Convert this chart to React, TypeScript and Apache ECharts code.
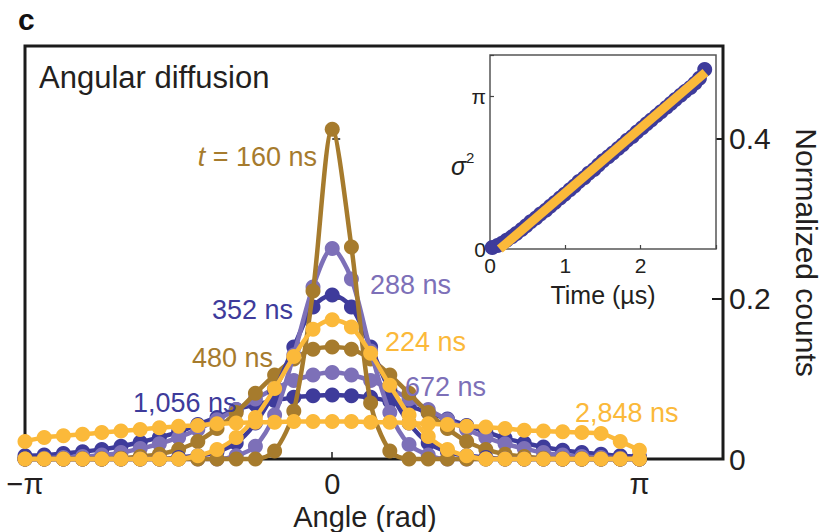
import React, { useEffect, useRef } from 'react';
import * as echarts from 'echarts';

// bin index k: angle = k * pi / 16
const binIndex = [-16, -15, -14, -13, -12, -11, -10, -9, -8, -7, -6, -5, -4, -3, -2, -1, 0, 1, 2, 3, 4, 5, 6, 7, 8, 9, 10, 11, 12, 13, 14, 15, 16];

const c160 = [0, 0, 0, 0, 0, 0, 0, 0, 0, 0, 0, 0, 0, 0.01, 0.06, 0.21, 0.412, 0.265, 0.07, 0.01, 0, 0, 0, 0, 0, 0, 0, 0, 0, 0, 0, 0, 0];
const c224 = [0, 0, 0, 0, 0, 0, 0, 0, 0, 0.004, 0.012, 0.027, 0.052, 0.088, 0.128, 0.162, 0.174, 0.165, 0.132, 0.092, 0.055, 0.028, 0.012, 0.004, 0, 0, 0, 0, 0, 0, 0, 0, 0];
const c288 = [0, 0, 0, 0, 0, 0, 0, 0, 0, 0, 0, 0.004, 0.016, 0.055, 0.13, 0.215, 0.263, 0.225, 0.135, 0.058, 0.018, 0.005, 0, 0, 0, 0, 0, 0, 0, 0, 0, 0, 0];
const c352 = [0, 0, 0, 0, 0, 0, 0, 0, 0.002, 0.004, 0.009, 0.02, 0.045, 0.085, 0.14, 0.19, 0.205, 0.19, 0.14, 0.085, 0.045, 0.02, 0.009, 0.004, 0.002, 0, 0, 0, 0, 0, 0, 0, 0];
const c480 = [0, 0, 0, 0, 0, 0.001, 0.003, 0.006, 0.012, 0.022, 0.038, 0.058, 0.082, 0.105, 0.125, 0.137, 0.14, 0.137, 0.125, 0.105, 0.082, 0.058, 0.038, 0.022, 0.012, 0.006, 0.003, 0.001, 0, 0, 0, 0, 0];
const c672 = [0, 0.001, 0.002, 0.003, 0.005, 0.008, 0.013, 0.019, 0.027, 0.037, 0.049, 0.062, 0.075, 0.088, 0.098, 0.105, 0.108, 0.105, 0.098, 0.088, 0.075, 0.062, 0.049, 0.037, 0.027, 0.019, 0.013, 0.008, 0.005, 0.003, 0.002, 0.001, 0];
const c1056 = [0.004, 0.005, 0.007, 0.009, 0.012, 0.016, 0.021, 0.027, 0.034, 0.043, 0.052, 0.062, 0.068, 0.073, 0.077, 0.079, 0.08, 0.079, 0.077, 0.072, 0.066, 0.058, 0.05, 0.042, 0.034, 0.026, 0.02, 0.015, 0.011, 0.008, 0.006, 0.004, 0.003];
const c2848 = [0.022, 0.027, 0.029, 0.031, 0.033, 0.035, 0.037, 0.039, 0.041, 0.042, 0.044, 0.045, 0.046, 0.046, 0.047, 0.047, 0.047, 0.047, 0.046, 0.046, 0.045, 0.044, 0.043, 0.041, 0.04, 0.038, 0.036, 0.035, 0.034, 0.033, 0.032, 0.022, 0.011];

// inset: sigma^2 vs time (µs)
const insetTimes = [0.03, 0.10, 0.16, 0.22, 0.29, 0.35, 0.42, 0.48, 0.54, 0.61, 0.67, 0.74, 0.80, 0.86, 0.93, 0.99, 1.06, 1.12, 1.18, 1.25, 1.31, 1.38, 1.44, 1.50, 1.57, 1.63, 1.70, 1.76, 1.82, 1.89, 1.95, 2.02, 2.08, 2.14, 2.21, 2.27, 2.34, 2.40, 2.46, 2.53, 2.59, 2.66, 2.72, 2.78, 2.85];
const insetSigma2 = [0.03, 0.07, 0.12, 0.18, 0.25, 0.32, 0.40, 0.48, 0.56, 0.64, 0.72, 0.80, 0.88, 0.96, 1.05, 1.13, 1.22, 1.30, 1.39, 1.47, 1.56, 1.64, 1.73, 1.82, 1.90, 1.98, 2.07, 2.15, 2.24, 2.32, 2.41, 2.50, 2.58, 2.66, 2.75, 2.83, 2.92, 3.00, 3.08, 3.17, 3.25, 3.33, 3.42, 3.52, 3.70];
const fitTimes = [0.13, 2.86];
const fitSigma2 = [0, 3.64];

const BROWN = '#A67B2D';
const LPURPLE = '#7D70B8';
const DBLUE = '#3E3B9B';
const ORANGE = '#FBB93A';
const INK = '#231f20';
const FONT = 'Liberation Sans, Arial, Helvetica, sans-serif';

const seriesDefs = [
  { name: '1,056 ns', data: c1056, color: DBLUE },
  { name: '672 ns', data: c672, color: LPURPLE },
  { name: '480 ns', data: c480, color: BROWN },
  { name: '352 ns', data: c352, color: DBLUE },
  { name: '288 ns', data: c288, color: LPURPLE },
  { name: 't = 160 ns', data: c160, color: BROWN },
  { name: '224 ns', data: c224, color: ORANGE },
  { name: '2,848 ns', data: c2848, color: ORANGE },
];

export default function App() {
  const ref = useRef<HTMLDivElement>(null);
  useEffect(() => {
    const chart = echarts.init(ref.current as HTMLDivElement, null, { renderer: 'svg' });
    const angles = binIndex.map((k) => (k * Math.PI) / 16);
    const lineSeries = seriesDefs.map((s, idx) => ({
      type: 'line',
      name: s.name,
      xAxisIndex: 0,
      yAxisIndex: 0,
      data: angles.map((a, i) => [a, s.data[i]]),
      smooth: 0.3,
      symbol: 'circle',
      symbolSize: 15,
      showAllSymbol: true,
      clip: false,
      z: 2 + idx,
      lineStyle: { color: s.color, width: 4.5 },
      itemStyle: { color: s.color },
    }));

    const piFmt = (v: number) => {
      if (Math.abs(v) < 1e-9) return '0';
      if (Math.abs(v - Math.PI) < 1e-6) return 'π';
      if (Math.abs(v + Math.PI) < 1e-6) return '−π';
      return '';
    };

    const txt = (x: number, y: number, text: string, color: string, size: number, align = 'left', extra: any = {}) => ({
      type: 'text',
      x,
      y,
      z: 50,
      style: {
        text,
        fill: color,
        fontSize: size,
        fontFamily: FONT,
        align,
        textAlign: align,
        verticalAlign: 'middle',
        textVerticalAlign: 'middle',
        ...extra,
      },
    });

    chart.setOption({
      animation: false,
      backgroundColor: '#ffffff',
      textStyle: { fontFamily: FONT },
      grid: [
        { left: 25, top: 46, width: 703, height: 413, show: true, borderColor: '#1b1b1b', borderWidth: 3, backgroundColor: 'transparent' },
        { left: 490, top: 55, width: 226, height: 194, show: true, borderColor: '#555555', borderWidth: 1.5, backgroundColor: '#ffffff', z: 10 },
      ],
      xAxis: [
        {
          type: 'value', gridIndex: 0, min: -Math.PI, max: 3.996, interval: Math.PI,
          axisLine: { show: false },
          axisTick: { show: true, inside: true, length: 7, lineStyle: { color: '#1b1b1b', width: 1.5 } },
          axisLabel: { show: true, margin: 10, fontSize: 29, color: INK, fontFamily: FONT, formatter: piFmt, showMaxLabel: false },
          splitLine: { show: false },
        },
        {
          type: 'value', gridIndex: 1, min: 0, max: 3, interval: 1, z: 11,
          axisLine: { show: false },
          axisTick: { show: true, inside: true, length: 4, lineStyle: { color: '#444', width: 1.2 } },
          axisLabel: { margin: 6, fontSize: 21, color: INK, fontFamily: FONT, formatter: (v: number) => (v >= 3 ? '' : String(v)) },
          splitLine: { show: false },
          name: 'Time (µs)', nameLocation: 'middle', nameGap: 33,
          nameTextStyle: { fontSize: 25, color: INK, fontFamily: FONT },
        },
      ],
      yAxis: [
        {
          type: 'value', gridIndex: 0, min: 0, max: 0.516, interval: 0.2, position: 'left',
          axisLine: { show: false },
          axisTick: { show: true, inside: true, length: 8, lineStyle: { color: '#1b1b1b', width: 1.5 } },
          axisLabel: { show: false },
          splitLine: { show: false },
        },
        {
          type: 'value', gridIndex: 0, min: 0, max: 0.516, interval: 0.2, position: 'right',
          axisLine: { show: false },
          axisTick: { show: true, inside: true, length: 11, lineStyle: { color: '#1b1b1b', width: 2 } },
          axisLabel: {
            margin: 6, fontSize: 30, color: INK, fontFamily: FONT,
            formatter: (v: number) => (v > 0.45 ? '' : v === 0 ? '0' : v.toFixed(1)),
          },
          splitLine: { show: false },
          name: 'Normalized counts', nameLocation: 'middle', nameRotate: -90, nameGap: 68,
          nameTextStyle: { fontSize: 30, color: INK, fontFamily: FONT },
        },
        {
          type: 'value', gridIndex: 1, min: 0, max: 4, interval: Math.PI, z: 11,
          axisLine: { show: false },
          axisTick: { show: true, inside: true, length: 4, lineStyle: { color: '#444', width: 1.2 } },
          axisLabel: { margin: 4, fontSize: 21, color: INK, fontFamily: FONT, formatter: (v: number) => (Math.abs(v) < 1e-9 ? '0' : Math.abs(v - Math.PI) < 1e-6 ? 'π' : '') },
          splitLine: { show: false },
        },
      ],
      series: [
        ...lineSeries,
        {
          type: 'scatter', xAxisIndex: 1, yAxisIndex: 2, z: 12,
          data: insetTimes.map((t, i) => [t, insetSigma2[i]]),
          symbol: 'circle', symbolSize: 15,
          itemStyle: { color: DBLUE, opacity: 1 },
        },
        {
          type: 'line', xAxisIndex: 1, yAxisIndex: 2, z: 13,
          data: fitTimes.map((t, i) => [t, fitSigma2[i]]),
          showSymbol: false, symbol: 'none',
          lineStyle: { color: ORANGE, width: 9, cap: 'butt' },
        },
      ],
      graphic: [
        txt(18, 19, 'c', '#111', 30, 'left', { fontWeight: 900 }),
        txt(39, 77, 'Angular diffusion', INK, 31),
        txt(365, 517, 'Angle (rad)', INK, 29, 'center'),
        txt(317, 157, '{i|t} = 160 ns', BROWN, 27, 'right', { rich: { i: { fontStyle: 'italic', fontSize: 27, fontFamily: FONT, fill: BROWN } } }),
        txt(370, 285, '288 ns', LPURPLE, 27),
        txt(212, 310, '352 ns', DBLUE, 27),
        txt(385, 342, '224 ns', ORANGE, 27),
        txt(192, 358, '480 ns', BROWN, 27),
        txt(405, 387, '672 ns', LPURPLE, 27),
        txt(133, 403, '1,056 ns', DBLUE, 27),
        txt(575, 413, '2,848 ns', ORANGE, 27),
        txt(451, 166, 'σ', INK, 25, 'left', { fontStyle: 'italic' }),
        txt(466, 157, '2', INK, 15),
      ],
    });
    return () => chart.dispose();
  }, []);
  return <div ref={ref} style={{ position: 'fixed', left: 0, top: 0, width: 829, height: 532 }} />;
}
